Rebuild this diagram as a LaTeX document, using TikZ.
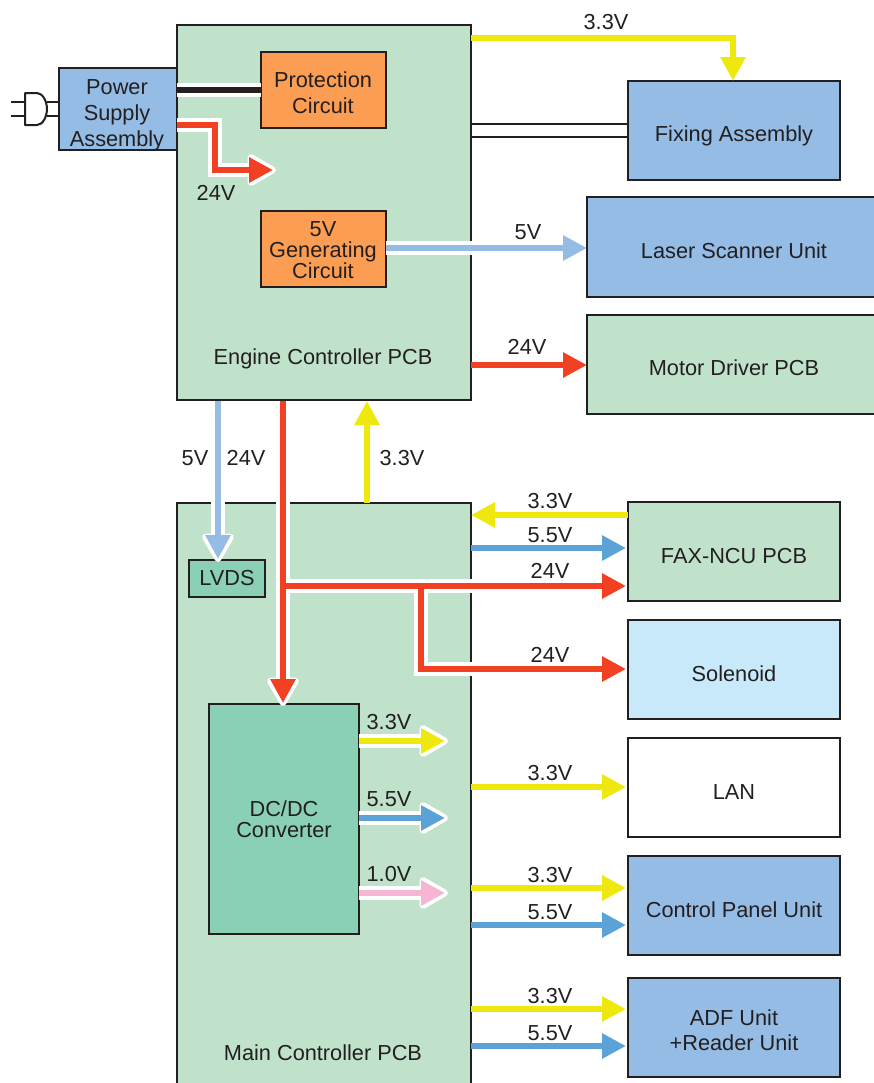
\documentclass[tikz,border=0pt]{standalone}
\usepackage{fontspec}
\setmainfont{Liberation Sans}
\usetikzlibrary{arrows.meta,calc}
\definecolor{ink}{HTML}{231F20}
\definecolor{pcbgreen}{HTML}{C0E2CA}
\definecolor{unitblue}{HTML}{94BCE5}
\definecolor{circorange}{HTML}{FB9D52}
\definecolor{convteal}{HTML}{8AD0B5}
\definecolor{solblue}{HTML}{C8E9F9}
\definecolor{yel}{HTML}{EEE80F}
\definecolor{redv}{HTML}{F24022}
\definecolor{bluev}{HTML}{5BA3D6}
\definecolor{lightv}{HTML}{94BCE5}
\definecolor{pinkv}{HTML}{F6B5D3}
\tikzset{
  x=0.75pt,y=-0.75pt,
  boxn/.style={draw=ink,line width=1.5pt,inner sep=0pt,outer sep=0pt,anchor=north west},
  txt/.style={text=ink,font=\fontsize{16.3}{19.5}\selectfont,inner sep=0pt,align=center},
  wire/.style={line width=4.5pt,line join=miter},
  arr/.style={wire,-{Triangle[length=18pt,width=18pt]}},
  halo/.style={white,line width=10pt,line join=miter},
  haloarr/.style={halo,-{Triangle[length=24pt,width=26pt,line width=5pt,round,fill=white]}},
  thin wire/.style={ink,line width=1.5pt},
}
\newcommand{\bx}[6]{\node[boxn,fill=#2,minimum width=#5*0.75pt-#3*0.75pt,minimum height=#6*0.75pt-#4*0.75pt] (#1) at (#3,#4) {};}
\begin{document}
\begin{tikzpicture}
\useasboundingbox (0,0) rectangle (874,1083);
\clip (0,0) rectangle (874,1083);
% boxes
\bx{engine}{pcbgreen}{177}{25}{471}{400}
\bx{mainpcb}{pcbgreen}{177}{503}{471}{1095}
\bx{power}{unitblue}{59}{68}{177}{150}
\bx{prot}{circorange}{261}{52}{386}{128}
\bx{gen}{circorange}{261}{211}{386}{287}
\bx{fixing}{unitblue}{628}{81}{840}{180}
\bx{laser}{unitblue}{587}{197}{890}{297}
\bx{motor}{pcbgreen}{587}{315}{890}{414}
\bx{lvds}{convteal}{189}{560}{265}{597}
\bx{dcdc}{convteal}{209}{704}{359}{934}
\bx{fax}{pcbgreen}{628}{502}{840}{601}
\bx{sol}{solblue}{628}{620}{840}{719}
\bx{lan}{white}{628}{738}{840}{837}
\bx{panel}{unitblue}{628}{856}{840}{955}
\bx{adf}{unitblue}{628}{978}{840}{1077}
% plug
\coordinate (plugtop) at (47,102);
\coordinate (plugbot) at (47,116);
\draw[thin wire] (11,102) -- (25,102);
\draw[thin wire] (11,116) -- (25,116);
\draw[thin wire] (plugtop) -- (power.west |- plugtop);
\draw[thin wire] (plugbot) -- (power.west |- plugbot);
\draw[thin wire,fill=white,line join=round] (25,93) -- (37,93) .. controls (43,93) and (47,102) .. (47,109) .. controls (47,116) and (43,125) .. (37,125) -- (25,125) -- cycle;
% free ends
\coordinate (r24end) at (273,170);
\coordinate (out33) at (445,741);
\coordinate (out55) at (445,818);
\coordinate (out10) at (445,893);
\coordinate (redbend) at (283,586);
\coordinate (branch) at (421,586);
% halos
\draw[halo] (power.east |- 0,90) -- (prot.west |- 0,90);
\draw[haloarr] (power.east |- 0,125) -- (215,125) -- (215,170) -- ($(r24end)+(3,0)$);
\draw[halo] (gen.east |- 0,248) -- ($(engine.east |- 0,248)+(2,0)$);
\draw[haloarr] (218,502) -- (218,562);
\draw[haloarr] (283,502) -- (283,706);
\draw[halo] (redbend) -- ($(mainpcb.east |- 0,586)+(2,0)$);
\draw[halo] (branch) -- (421,669) -- ($(mainpcb.east |- 0,669)+(2,0)$);
\draw[haloarr] (dcdc.east |- 0,741) -- ($(out33)+(3,0)$);
\draw[haloarr] (dcdc.east |- 0,818) -- ($(out55)+(3,0)$);
\draw[haloarr] (dcdc.east |- 0,893) -- ($(out10)+(3,0)$);
% wires
\draw[wire,ink] (power.east |- 0,90) -- (prot.west |- 0,90);
\draw[thin wire] (engine.east |- 0,124) -- (fixing.west |- 0,124);
\draw[thin wire] (engine.east |- 0,137) -- (fixing.west |- 0,137);
\draw[arr,yel] (engine.east |- 0,38) -- (733,38) -- (733,81);
\draw[arr,redv] (power.east |- 0,125) -- (215,125) -- (215,170) -- (r24end);
\draw[arr,lightv] (gen.east |- 0,248) -- (laser.west |- 0,248);
\draw[arr,redv] (engine.east |- 0,365) -- (motor.west |- 0,365);
\draw[arr,lightv] (218,401) -- (218,559);
\draw[arr,redv] (283,401) -- (283,703);
\draw[arr,yel] (367,503) -- (367,401);
\draw[arr,yel] (fax.west |- 0,515) -- (mainpcb.east |- 0,515);
\draw[arr,bluev] (mainpcb.east |- 0,548) -- (626,548);
\draw[arr,redv] (redbend) -- (626,586);
\draw[arr,redv] (branch) -- (421,669) -- (626,669);
\draw[arr,yel] (dcdc.east |- 0,741) -- (out33);
\draw[arr,bluev] (dcdc.east |- 0,818) -- (out55);
\draw[arr,pinkv] (dcdc.east |- 0,893) -- (out10);
\draw[arr,yel] (mainpcb.east |- 0,787) -- (626,787);
\draw[arr,yel] (mainpcb.east |- 0,888) -- (626,888);
\draw[arr,bluev] (mainpcb.east |- 0,925) -- (626,925);
\draw[arr,yel] (mainpcb.east |- 0,1009) -- (626,1009);
\draw[arr,bluev] (mainpcb.east |- 0,1046) -- (626,1046);
% box texts
\node[txt] (tpower) at (117,115) {Power\\Supply\\Assembly};
\node[txt] (tprot) at (323,93) {Protection\\Circuit};
\node[txt,font=\fontsize{16.3}{16}\selectfont] (tgen) at (323,250) {5V\\Generating\\Circuit};
\node[txt] (tengine) at (323,359) {Engine Controller PCB};
\node[txt] (tfixing) at (734,136) {Fixing Assembly};
\node[txt] (tlaser) at (734,251) {Laser Scanner Unit};
\node[txt] (tmotor) at (734,368) {Motor Driver PCB};
\node[txt] (tlvds) at (227,578) {LVDS};
\node[txt,font=\fontsize{16.3}{16}\selectfont] (tdcdc) at (284,819) {DC/DC\\Converter};
\node[txt] (tfax) at (734,556) {FAX-NCU PCB};
\node[txt] (tsol) at (734,674) {Solenoid};
\node[txt] (tlan) at (734,792) {LAN};
\node[txt] (tpanel) at (734,910) {Control Panel Unit};
\node[txt,font=\fontsize{16.3}{18.75}\selectfont] (tadf) at (734,1030) {ADF Unit\\+Reader Unit};
\node[txt] (tmain) at (323,1053) {Main Controller PCB};
% voltage labels
\node[txt] (v1) at (606,22) {3.3V};
\node[txt] (v2) at (528,232) {5V};
\node[txt] (v3) at (527,347) {24V};
\node[txt] (v4) at (216,193) {24V};
\node[txt] (v5) at (195,458) {5V};
\node[txt] (v6) at (246,458) {24V};
\node[txt] (v7) at (402,458) {3.3V};
\node[txt] (v8) at (550,501) {3.3V};
\node[txt] (v9) at (550,535) {5.5V};
\node[txt] (v10) at (550,571) {24V};
\node[txt] (v11) at (550,655) {24V};
\node[txt] (v12) at (389,722) {3.3V};
\node[txt] (v13) at (389,799) {5.5V};
\node[txt] (v14) at (389,874) {1.0V};
\node[txt] (v15) at (550,773) {3.3V};
\node[txt] (v16) at (550,875) {3.3V};
\node[txt] (v17) at (550,912) {5.5V};
\node[txt] (v18) at (550,996) {3.3V};
\node[txt] (v19) at (550,1033) {5.5V};
\end{tikzpicture}
\end{document}
